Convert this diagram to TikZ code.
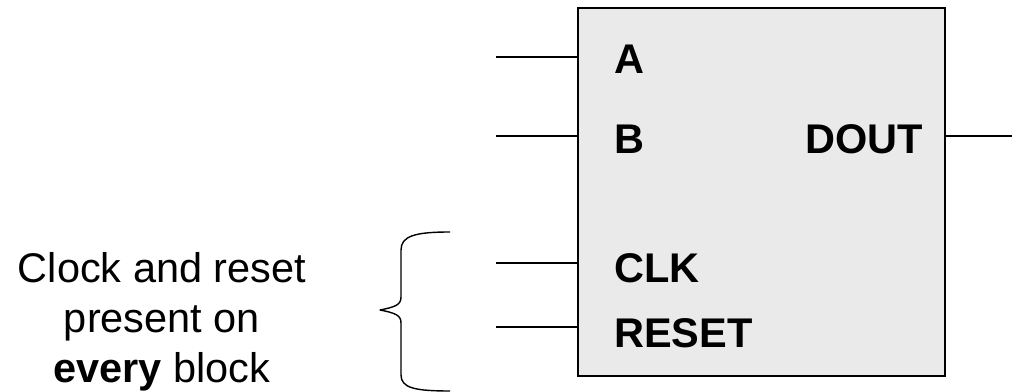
\documentclass[tikz,border=0pt]{standalone}
\usepackage{fontspec}
\setmainfont{Liberation Sans}
\usepackage{tikz}
\usetikzlibrary{positioning, calc}
\usepackage{xcolor}
\definecolor{blockcolor}{RGB}{234,234,234}

\begin{document}
\begin{tikzpicture}[
    x=0.025cm, y=-0.025cm,
    block/.style={rectangle, draw, line width=1pt, fill=blockcolor, minimum width=9.175cm, minimum height=9.2cm, inner sep=0},
    wire/.style={line width=1pt},
    pinlabel/.style={inner sep=0, font=\fontsize{29.5}{37}\selectfont\bfseries},
    note/.style={inner sep=0, align=center, font=\fontsize{29.5}{35.6}\selectfont},
    curly/.style={line width=1pt, line join=round}
]
    \useasboundingbox (0,0) rectangle (1012,392);

    % Block
    \node[block] (blk) at (761.5,192) {};

    % Pin labels
    \node[pinlabel, anchor=base west] (la) at (614,74) {A};
    \node[pinlabel, anchor=base west] (lb) at (614,154) {B};
    \node[pinlabel, anchor=base east] (ldout) at (923,154) {DOUT};
    \node[pinlabel, anchor=base west] (lclk) at (614,283) {CLK};
    \node[pinlabel, anchor=base west] (lrst) at (614,348) {RESET};

    % Wires
    \coordinate (ina) at (496,57);
    \coordinate (inb) at (496,136);
    \coordinate (inclk) at (496,263);
    \coordinate (inrst) at (496,327);
    \coordinate (outd) at (1012,136);
    \draw[wire] (ina) -- (ina -| blk.west);
    \draw[wire] (inb) -- (inb -| blk.west);
    \draw[wire] (inclk) -- (inclk -| blk.west);
    \draw[wire] (inrst) -- (inrst -| blk.west);
    \draw[wire] (blk.east |- outd) -- (outd);

    % Brace
    \coordinate (brtop) at (450,232);
    \coordinate (brtip) at (380,310);
    \coordinate (brbot) at (450,391);
    \draw[curly] (brtop) .. controls (415,232) and (401,236) .. (401,250)
        -- (401,297) .. controls (401,305) and (395,307) .. (brtip)
        .. controls (395,313) and (401,315) .. (401,323)
        -- (401,375) .. controls (401,388) and (415,391) .. (brbot);

    % Note
    \node[note, anchor=base] (note) at (162,383) {Clock and reset\\present on\\\textbf{every} block};
\end{tikzpicture}
\end{document}
